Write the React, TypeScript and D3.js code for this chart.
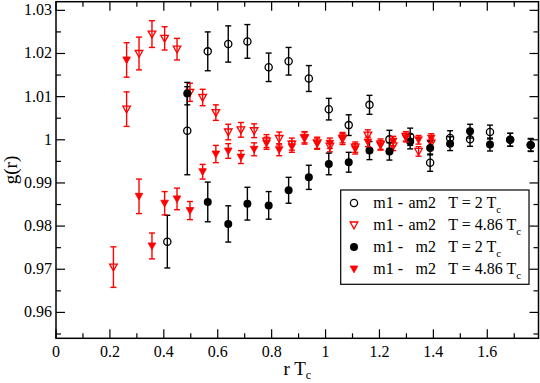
import React from 'react';
import { scaleLinear, range } from 'd3';

// r*Tc positions and g(r) values
const rBlack = [0.413, 0.487, 0.563, 0.639, 0.71, 0.789, 0.863, 0.938, 1.012, 1.086, 1.163, 1.237, 1.314, 1.388, 1.462, 1.536, 1.61, 1.685, 1.761];
const gOpenBlack = [0.9764, 1.0021, 1.0205, 1.0222, 1.0228, 1.0168, 1.0182, 1.0142, 1.0071, 1.0034, 1.0081, 1.0001, 1.0007, 0.9947, 1.0004, 1.0001, 1.0018, 1.0, 0.9988];
const eOpenBlack = [0.0061, 0.0102, 0.0045, 0.0042, 0.0039, 0.0033, 0.0032, 0.003, 0.0025, 0.0024, 0.0022, 0.0021, 0.002, 0.002, 0.0017, 0.0016, 0.0016, 0.0015, 0.0015];

const rFilledBlack = [0.487, 0.563, 0.639, 0.71, 0.789, 0.863, 0.938, 1.012, 1.086, 1.163, 1.237, 1.314, 1.388, 1.462, 1.536, 1.61, 1.685, 1.761];
const gFilledBlack = [1.0107, 0.9856, 0.9805, 0.9852, 0.9848, 0.9883, 0.9913, 0.9944, 0.9948, 0.9975, 0.9973, 0.9996, 0.9981, 0.9991, 1.002, 0.9989, 1.0, 0.9988];
const eFilledBlack = [0.0026, 0.0046, 0.0042, 0.0038, 0.0032, 0.003, 0.0028, 0.0025, 0.0023, 0.0021, 0.002, 0.0017, 0.0016, 0.0016, 0.0016, 0.0015, 0.0015, 0.0014];

const rOpenRed = [0.213, 0.262, 0.308, 0.356, 0.403, 0.449, 0.497, 0.544, 0.593, 0.639, 0.686, 0.735, 0.781, 0.828, 0.875, 0.922, 0.969, 1.016, 1.063, 1.11, 1.157, 1.204, 1.251, 1.298, 1.345, 1.392];
const gOpenRed = [0.9705, 1.0071, 1.02, 1.0245, 1.0235, 1.021, 1.011, 1.0098, 1.0063, 1.0018, 1.0023, 1.0021, 0.9997, 1.0003, 0.999, 1.0004, 0.9993, 0.9985, 1.0002, 0.9983, 1.0011, 0.999, 0.9986, 1.0008, 0.9973, 0.9992];
const eOpenRed = [0.0047, 0.004, 0.0038, 0.0031, 0.0027, 0.0025, 0.0021, 0.0019, 0.0018, 0.0018, 0.0017, 0.0016, 0.0015, 0.0015, 0.0014, 0.0014, 0.0013, 0.0013, 0.0013, 0.0012, 0.0012, 0.0012, 0.0011, 0.0011, 0.0011, 0.001];

const rFilledRed = [0.262, 0.308, 0.356, 0.403, 0.449, 0.497, 0.544, 0.593, 0.639, 0.686, 0.735, 0.781, 0.828, 0.875, 0.922, 0.969, 1.016, 1.063, 1.11, 1.157, 1.204, 1.251, 1.298, 1.345, 1.392];
const gFilledRed = [1.0185, 0.9869, 0.9754, 0.9853, 0.9863, 0.9836, 0.9926, 0.9967, 0.9974, 0.996, 0.9978, 0.9992, 0.9977, 0.9984, 1.0006, 0.9991, 0.9992, 1.0005, 0.9979, 0.9995, 0.9987, 0.9997, 1.0005, 1.0, 1.0004];
const eFilledRed = [0.004, 0.004, 0.003, 0.0027, 0.0025, 0.0021, 0.0017, 0.002, 0.0017, 0.0015, 0.0015, 0.0014, 0.0014, 0.0013, 0.0013, 0.0013, 0.0012, 0.0012, 0.0012, 0.0011, 0.0011, 0.0011, 0.001, 0.001, 0.001];

const xTickLabels = ['0', '0.2', '0.4', '0.6', '0.8', '1', '1.2', '1.4', '1.6'];
const yTickLabels = ['0.96', '0.97', '0.98', '0.99', '1', '1.01', '1.02', '1.03'];

const RED = '#ff0000';
const FONT = "'Liberation Serif', 'Times New Roman', Times, 'DejaVu Serif', serif";

const left = 56, right = 538.5, top = 1.7, bottom = 338.3;
const x = scaleLinear().domain([0, 1.79]).range([left, right]);
const y = scaleLinear().domain([0.954, 1.032]).range([bottom, top]);

function ErrBars({ xs, ys, es, color }) {
  return (
    <g stroke={color} strokeWidth={1.4}>
      {xs.map((r, i) => {
        const cx = x(r);
        const y1 = y(ys[i] + es[i]);
        const y2 = y(ys[i] - es[i]);
        return (
          <g key={i}>
            <line x1={cx} x2={cx} y1={y1} y2={y2} />
            <line x1={cx - 3} x2={cx + 3} y1={y1} y2={y1} />
            <line x1={cx - 3} x2={cx + 3} y1={y2} y2={y2} />
          </g>
        );
      })}
    </g>
  );
}

const triPath = (cx, cy) =>
  `M${cx - 3.8},${cy - 3} L${cx + 3.8},${cy - 3} L${cx},${cy + 3.8} Z`;

function Symbol({ kind, cx, cy }) {
  if (kind === 'openCircle')
    return <circle cx={cx} cy={cy} r={3.6} fill="none" stroke="black" strokeWidth={1.3} />;
  if (kind === 'filledCircle')
    return <circle cx={cx} cy={cy} r={4} fill="black" />;
  if (kind === 'openTri')
    return <path d={triPath(cx, cy)} fill="none" stroke={RED} strokeWidth={1.3} />;
  return <path d={triPath(cx, cy)} fill={RED} stroke={RED} strokeWidth={0.8} />;
}

const series = [
  { kind: 'openCircle', xs: rBlack, ys: gOpenBlack, es: eOpenBlack, color: 'black', pair: 'am2', temp: '2' },
  { kind: 'openTri', xs: rOpenRed, ys: gOpenRed, es: eOpenRed, color: RED, pair: 'am2', temp: '4.86' },
  { kind: 'filledCircle', xs: rFilledBlack, ys: gFilledBlack, es: eFilledBlack, color: 'black', pair: 'm2', temp: '2' },
  { kind: 'filledTri', xs: rFilledRed, ys: gFilledRed, es: eFilledRed, color: RED, pair: 'm2', temp: '4.86' },
];

export default function App() {
  const xMajor = range(0, 1.61, 0.2);
  const xMinor = range(0.1, 1.79, 0.2);
  const yMajor = range(0.96, 1.0301, 0.01);
  const yMinor = range(0.955, 1.031, 0.01);
  const tickW = 1.2;

  return (
    <svg width={540} height={383} style={{ position: 'absolute', left: 0, top: 0, background: 'white', fontFamily: FONT }}>
      {/* ticks, inward on every side */}
      <g stroke="black" strokeWidth={tickW}>
        {xMajor.map((v, i) => (
          <g key={'xM' + i}>
            <line x1={x(v)} x2={x(v)} y1={bottom} y2={bottom - 9} />
            <line x1={x(v)} x2={x(v)} y1={top} y2={top + 9} />
          </g>
        ))}
        {xMinor.map((v, i) => (
          <g key={'xm' + i}>
            <line x1={x(v)} x2={x(v)} y1={bottom} y2={bottom - 5} />
            <line x1={x(v)} x2={x(v)} y1={top} y2={top + 5} />
          </g>
        ))}
        {yMajor.map((v, i) => (
          <g key={'yM' + i}>
            <line x1={left} x2={left + 9} y1={y(v)} y2={y(v)} />
            <line x1={right} x2={right - 9} y1={y(v)} y2={y(v)} />
          </g>
        ))}
        {yMinor.map((v, i) => (
          <g key={'ym' + i}>
            <line x1={left} x2={left + 5} y1={y(v)} y2={y(v)} />
            <line x1={right} x2={right - 5} y1={y(v)} y2={y(v)} />
          </g>
        ))}
      </g>

      {xMajor.map((v, i) => (
        <text key={'xl' + i} x={x(v)} y={357} fontSize={16} textAnchor="middle">
          {xTickLabels[i]}
        </text>
      ))}
      {yMajor.map((v, i) => (
        <text key={'yl' + i} x={52} y={y(v) + 5} fontSize={16} textAnchor="end">
          {yTickLabels[i]}
        </text>
      ))}

      <text x={(left + right) / 2} y={375} fontSize={19} textAnchor="middle">
        r T<tspan fontSize={12} dy={4}>c</tspan>
      </text>
      <text transform={`translate(17, ${(top + bottom) / 2}) rotate(-90)`} fontSize={19} textAnchor="middle">
        g(r)
      </text>

      {/* data */}
      {series.map((s, si) => (
        <g key={'s' + si}>
          <ErrBars xs={s.xs} ys={s.ys} es={s.es} color={s.color} />
          {s.xs.map((r, i) => (
            <Symbol key={i} kind={s.kind} cx={x(r)} cy={y(s.ys[i])} />
          ))}
        </g>
      ))}

      <rect x={left} y={top} width={right - left} height={bottom - top} fill="none" stroke="black" strokeWidth={1.5} />

      {/* legend */}
      <rect x={340.7} y={190} width={188.3} height={94.3} fill="white" stroke="black" strokeWidth={1.2} />
      {series.map((s, i) => {
        const cy = 203 + i * 22;
        return (
          <g key={'lg' + i} fontSize={16}>
            <Symbol kind={s.kind} cx={354} cy={cy} />
            <text x={373.3} y={cy + 5}>m1 -</text>
            <text x={436} y={cy + 5} textAnchor="end">{s.pair}</text>
            <text x={448.3} y={cy + 5}>
              T = {s.temp} T<tspan fontSize={11} dy={5}>c</tspan>
            </text>
          </g>
        );
      })}
    </svg>
  );
}
